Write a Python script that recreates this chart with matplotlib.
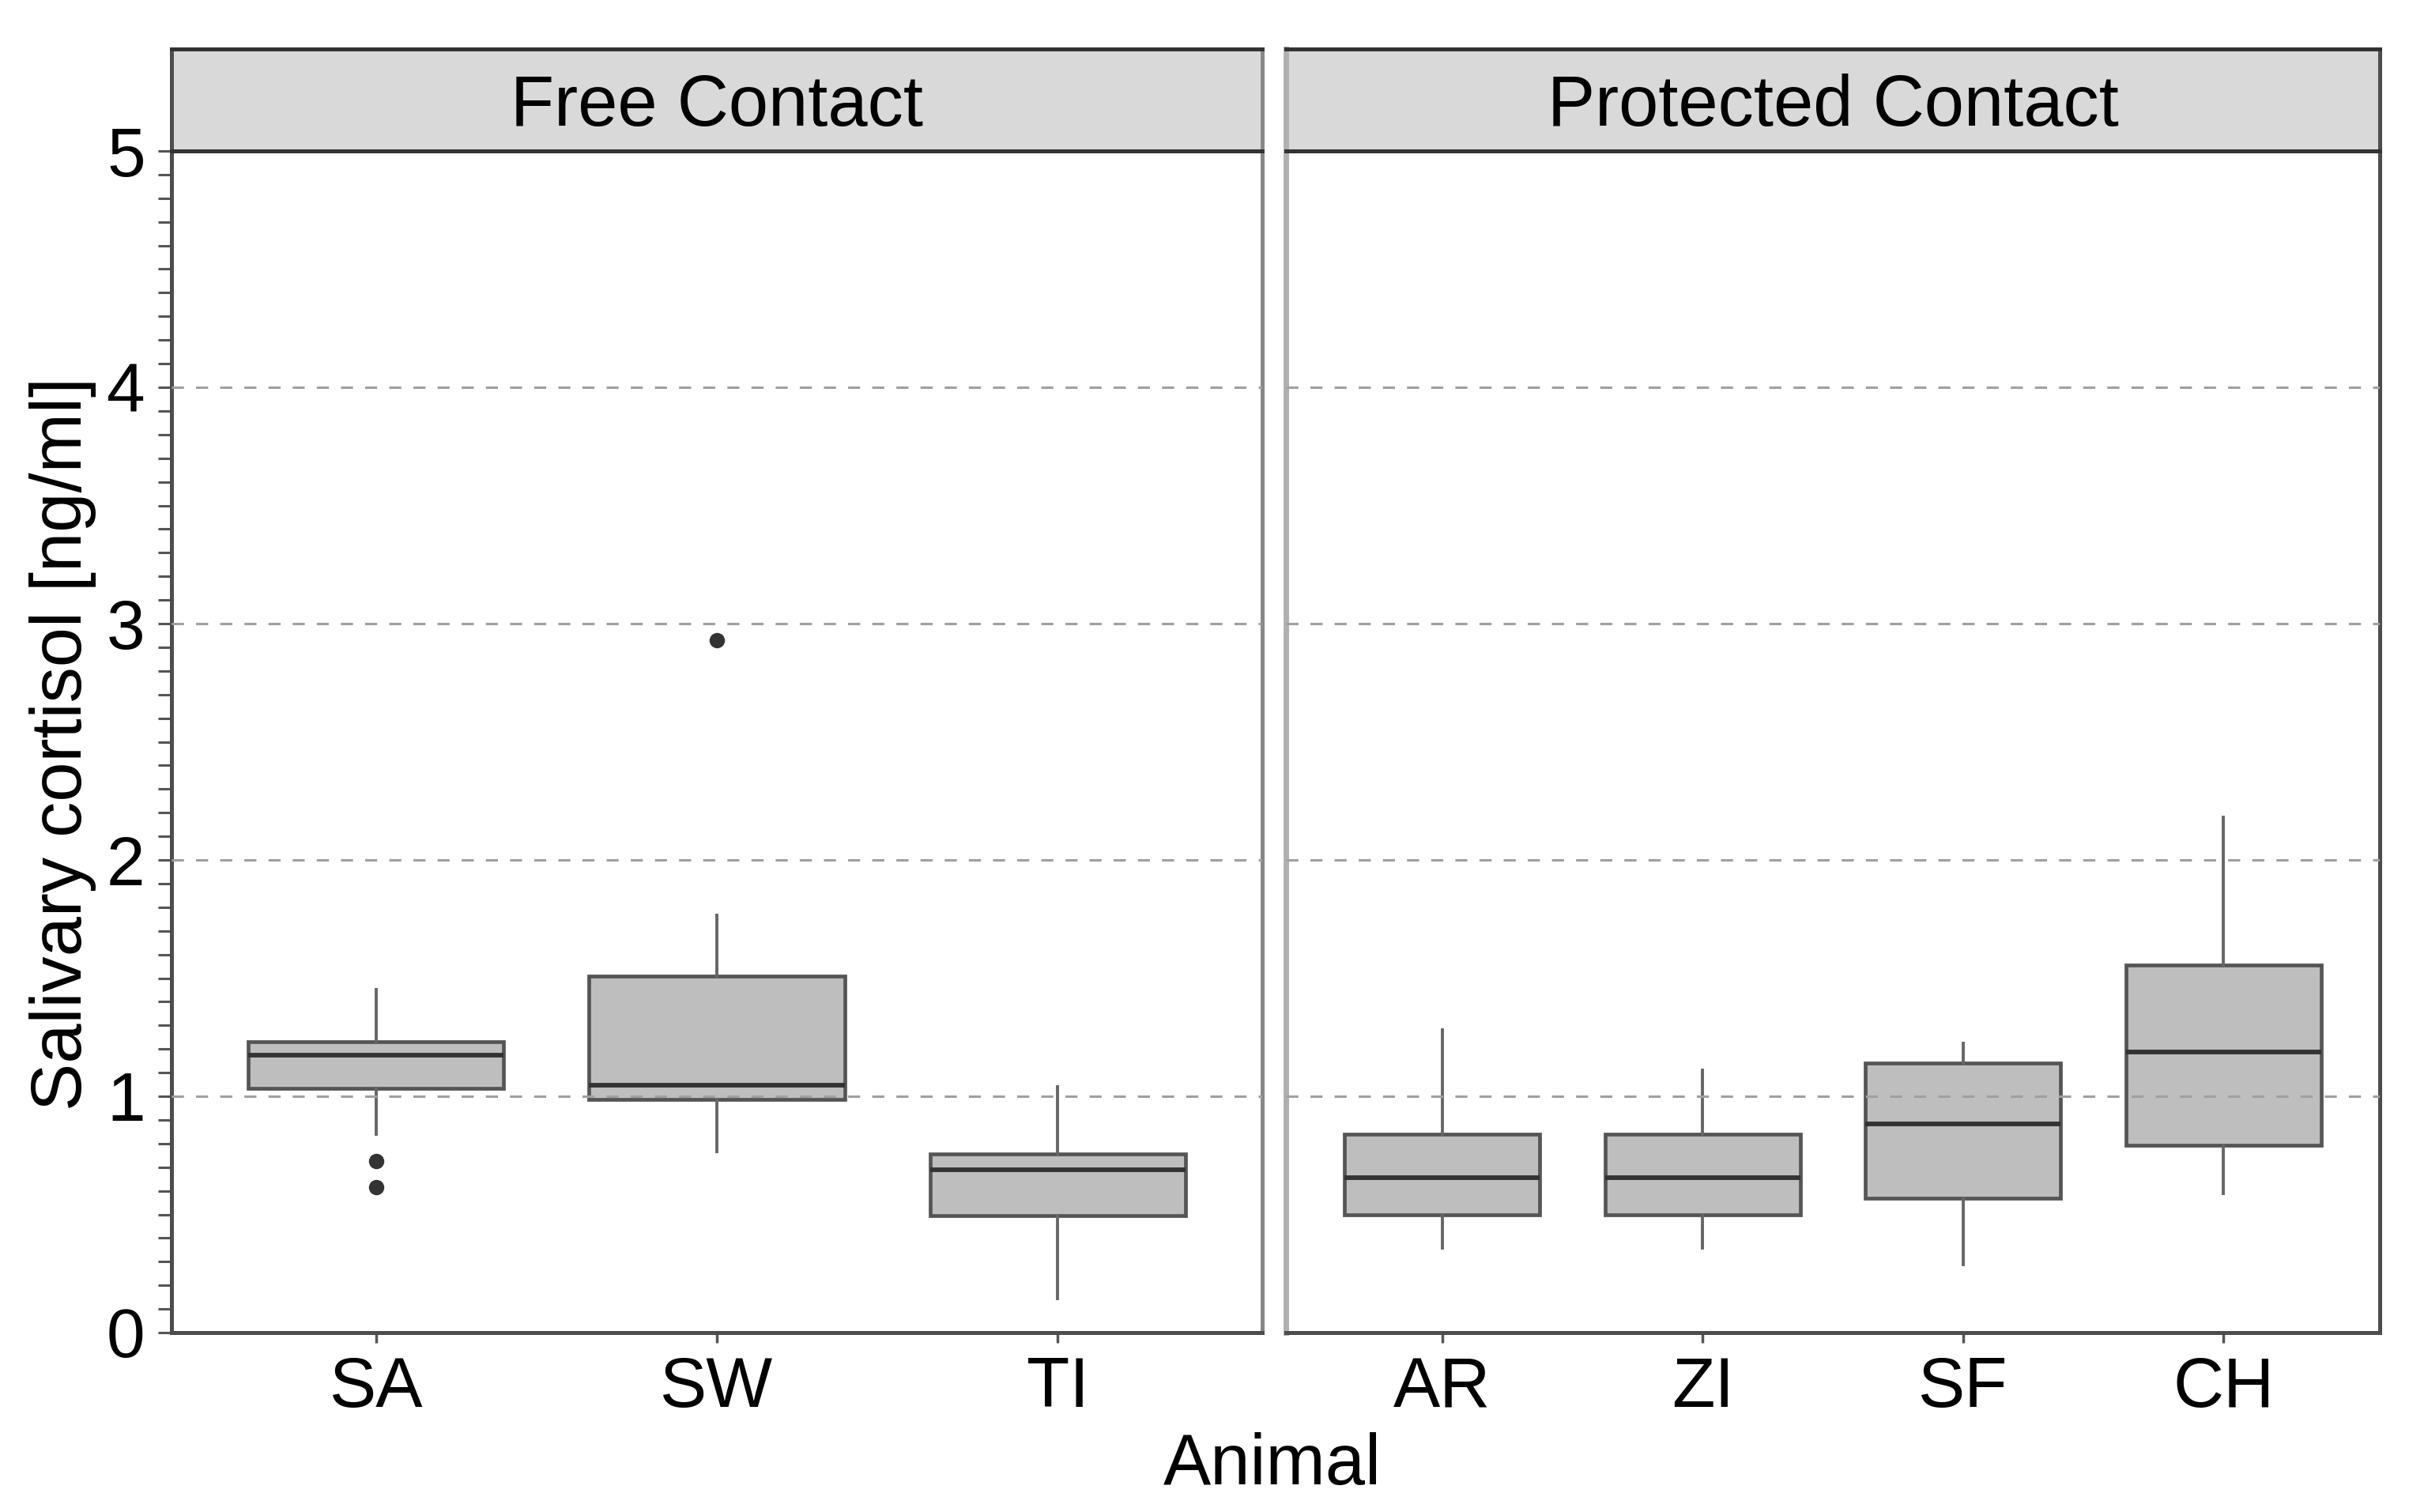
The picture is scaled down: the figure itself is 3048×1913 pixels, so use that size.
import numpy as np
import matplotlib
matplotlib.use("Agg")
import matplotlib.pyplot as plt
from matplotlib.ticker import MultipleLocator

plt.rcParams['font.family'] = ['Liberation Sans', 'DejaVu Sans']

# values (ng/ml)
free_animals = ["SA", "SW", "TI"]
free_q1 = [1.035, 0.985, 0.496]
free_med = [1.175, 1.048, 0.690]
free_q3 = [1.232, 1.508, 0.757]
free_lo = [0.840, 0.765, 0.144]
free_hi = [1.450, 1.765, 1.040]
free_out = [[0.725, 0.615], [2.93], []]

prot_animals = ["AR", "ZI", "SF", "CH"]
prot_q1 = [0.500, 0.500, 0.568, 0.793]
prot_med = [0.656, 0.656, 0.883, 1.186]
prot_q3 = [0.838, 0.838, 1.139, 1.555]
prot_lo = [0.359, 0.359, 0.287, 0.588]
prot_hi = [1.281, 1.109, 1.223, 2.180]
prot_out = [[], [], [], []]

panel_titles = ["Free Contact", "Protected Contact"]

W, H = 3048, 1913
fig = plt.figure(figsize=(W / 100, H / 100), dpi=100)

y_bot = 1 - 1686 / H
y_top = 1 - 191 / H
strip_top = 1 - 62 / H
panels = [(217, 1597), (1627, 3011)]

groups = [
    (free_animals, free_q1, free_med, free_q3, free_lo, free_hi, free_out),
    (prot_animals, prot_q1, prot_med, prot_q3, prot_lo, prot_hi, prot_out),
]

box_fill = "#BEBEBE"
box_edge = "#555555"

for i, ((x0, x1), grp, title) in enumerate(zip(panels, groups, panel_titles)):
    names, q1, med, q3, lo, hi, out = grp
    ax = fig.add_axes([x0 / W, y_bot, (x1 - x0) / W, y_top - y_bot])
    stats = []
    for k in range(len(names)):
        stats.append(dict(label=names[k], q1=q1[k], med=med[k], q3=q3[k],
                          whislo=lo[k], whishi=hi[k], fliers=out[k]))
    pos = np.arange(1, len(names) + 1)
    ax.bxp(stats, positions=pos, widths=0.75, patch_artist=True, showcaps=False,
           boxprops=dict(facecolor=box_fill, edgecolor=box_edge, linewidth=3.4),
           medianprops=dict(color="#333333", linewidth=4.2),
           whiskerprops=dict(color="#666666", linewidth=2.8),
           flierprops=dict(marker="o", markerfacecolor="#333333",
                           markeredgecolor="#333333", markersize=13))
    ax.set_xlim(0.4, len(names) + 0.6)
    ax.set_ylim(0, 5)
    for gy in [1, 2, 3, 4]:
        ax.axhline(gy, color="#A0A0A0", linewidth=2.2, linestyle=(0, (5, 5)), zorder=5)
    ax.set_xticks(pos)
    ax.set_xticklabels(names)
    ax.tick_params(axis="x", length=9, width=2.5, color="#555555", pad=12,
                   labelsize=64, labelcolor="black")
    for s in ax.spines.values():
        s.set_color("#4D4D4D")
        s.set_linewidth(3.6)
    if i == 0:
        ax.yaxis.set_major_locator(MultipleLocator(1))
        ax.yaxis.set_minor_locator(MultipleLocator(0.1))
        ax.tick_params(axis="y", which="both", length=12, width=2.2, color="#555555")
        ax.tick_params(axis="y", which="major", pad=12, labelsize=63, labelcolor="black")
        ax.spines["right"].set_color("#888888")
        ax.spines["right"].set_linewidth(3.6)
    else:
        ax.set_yticks([])
        ax.spines["left"].set_color("#B0B0B0")
        ax.spines["left"].set_linewidth(5)

    sax = fig.add_axes([x0 / W, y_top, (x1 - x0) / W, strip_top - y_top])
    sax.set_facecolor("#D9D9D9")
    sax.set_xticks([])
    sax.set_yticks([])
    for side in ["top", "bottom"]:
        sax.spines[side].set_color("#333333")
        sax.spines[side].set_linewidth(3.6)
    sax.spines["left"].set_color("#4D4D4D" if i == 0 else "#B0B0B0")
    sax.spines["right"].set_color("#888888" if i == 0 else "#4D4D4D")
    sax.spines["left"].set_linewidth(3.6 if i == 0 else 5)
    sax.spines["right"].set_linewidth(3.6)
    sax.text(0.5, 0.43, title, ha="center", va="center", fontsize=65,
             transform=sax.transAxes)

fig.text(1610 / W, 1 - 1878 / H, "Animal", ha="center", va="baseline", fontsize=65)
fig.text(80 / W, 1 - 941 / H, "Salivary cortisol [ng/ml]", ha="center", va="center",
         rotation=90, fontsize=65)

fig.savefig("out.png", dpi=100, facecolor="white")
